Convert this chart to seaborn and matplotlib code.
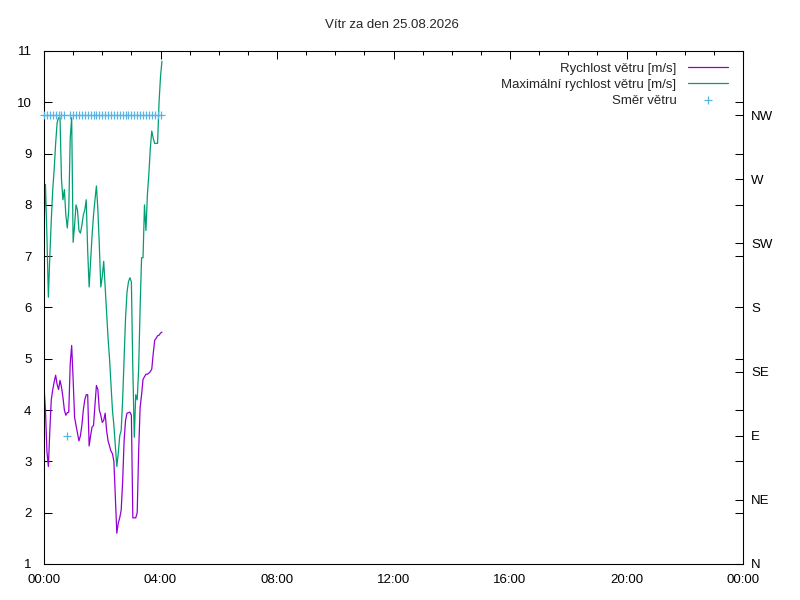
import numpy as np
import pandas as pd
import seaborn as sns
import matplotlib
matplotlib.use("Agg")
import matplotlib.pyplot as plt
from matplotlib.ticker import MultipleLocator, FuncFormatter

# wind speed samples, every 3 minutes from midnight
minutes = list(range(0, 244, 3))
speed = [4.45, 4.0, 3.2, 2.9, 3.6, 4.2, 4.4, 4.55, 4.68, 4.5,
         4.4, 4.58, 4.45, 4.25, 4.0, 3.9, 3.95, 3.96, 4.9, 5.26,
         4.6, 3.86, 3.7, 3.55, 3.4, 3.5, 3.7, 4.0, 4.2, 4.3,
         4.3, 3.3, 3.5, 3.67, 3.7, 4.1, 4.48, 4.4, 4.0, 3.9,
         3.76, 3.8, 3.94, 3.6, 3.4, 3.3, 3.2, 3.15, 3.0, 2.3,
         1.6, 1.8, 1.9, 2.05, 2.6, 3.4, 3.8, 3.94, 3.95, 3.96,
         3.9, 1.9, 1.9, 1.9, 2.0, 3.2, 4.05, 4.3, 4.6, 4.65,
         4.7, 4.7, 4.72, 4.75, 4.8, 5.1, 5.36, 5.4, 5.45, 5.46,
         5.5, 5.52]
gust = [7.6, 8.4, 7.4, 6.2, 7.0, 7.7, 8.3, 8.7, 9.2, 9.6,
        9.7, 9.7, 8.5, 8.1, 8.3, 7.8, 7.55, 7.9, 9.3, 9.7,
        7.27, 7.6, 8.0, 7.9, 7.5, 7.45, 7.6, 7.8, 7.9, 8.1,
        7.1, 6.4, 6.9, 7.4, 7.8, 8.1, 8.37, 7.9, 7.2, 6.4,
        6.6, 6.9, 6.4, 5.9, 5.4, 5.0, 4.5, 4.0, 3.7, 3.3,
        2.9, 3.16, 3.5, 3.6, 4.2, 5.0, 5.8, 6.3, 6.5, 6.58,
        6.5, 4.8, 3.47, 4.3, 4.2, 4.8, 6.0, 6.97, 6.97, 8.0,
        7.5, 8.2, 8.6, 9.1, 9.44, 9.3, 9.2, 9.2, 9.2, 10.0,
        10.5, 10.8]

# wind direction in degrees, every 6 minutes
dir_minutes = list(range(0, 241, 6))
direction = [315, 315, 315, 315, 315, 315, 315, 315, 90, 315,
             315, 315, 315, 315, 315, 315, 315, 315, 315, 315,
             315, 315, 315, 315, 315, 315, 315, 315, 315, 315,
             315, 315, 315, 315, 315, 315, 315, 315, 315, 315,
             315]

compass = ["N", "NE", "E", "SE", "S", "SW", "W", "NW"]
title = "Vítr za den 25.08.2026"

df = pd.DataFrame({"hours": np.array(minutes) / 60, "speed": speed, "gust": gust})
df_dir = pd.DataFrame({"hours": np.array(dir_minutes) / 60, "direction": direction})

sns.set_style("white")
plt.rcParams["font.family"] = ["Liberation Sans", "DejaVu Sans"]
plt.rcParams["font.size"] = 9.5

fig = plt.figure(figsize=(8, 6), dpi=100)
ax = fig.add_axes([44 / 800, 36 / 600, 699 / 800, 513 / 600])
ax2 = ax.twinx()

sns.lineplot(data=df, x="hours", y="speed", ax=ax, color="#9400d3", lw=0.9,
             label="Rychlost větru [m/s]")
sns.lineplot(data=df, x="hours", y="gust", ax=ax, color="#009e73", lw=0.9,
             label="Maximální rychlost větru [m/s]")
sns.scatterplot(data=df_dir, x="hours", y="direction", ax=ax2, marker="+",
                color="#56b4e9", s=40, linewidth=0.9, label="Směr větru",
                clip_on=False, zorder=5)

ax.set_xlim(0, 24)
ax.set_ylim(1, 11)
ax2.set_ylim(0, 360)
ax.xaxis.set_major_locator(MultipleLocator(4))
ax.xaxis.set_minor_locator(MultipleLocator(1))
ax.xaxis.set_major_formatter(FuncFormatter(lambda v, p: f"{int(round(v)) % 24:02d}:00"))
ax.yaxis.set_major_locator(MultipleLocator(1))
ax2.set_yticks(np.arange(0, 360, 45))
ax2.set_yticklabels(compass)

ax.set_xlabel("")
ax.set_ylabel("")
ax2.set_ylabel("")

ax.tick_params(axis="both", which="both", direction="in", top=True, right=True,
               colors="black", labelsize=9.5)
ax.tick_params(axis="x", which="major", length=6, width=0.75, pad=7)
ax.tick_params(axis="x", which="minor", length=3, width=0.75)
ax.tick_params(axis="y", which="major", length=6, width=0.75, pad=9)
ax2.tick_params(axis="y", which="major", direction="in", length=6, width=0.75,
                pad=6, labelsize=9.5, colors="black")

for a in (ax, ax2):
    for sp in a.spines.values():
        sp.set_linewidth(0.75)
        sp.set_color("black")

fig.text(0.49, 1 - 25 / 600, title, ha="center", va="center", fontsize=9.5)

h1, l1 = ax.get_legend_handles_labels()
h2, l2 = ax2.get_legend_handles_labels()
if ax.get_legend() is not None:
    ax.get_legend().remove()
if ax2.get_legend() is not None:
    ax2.get_legend().remove()
ax2.legend(h1 + h2, l1 + l2, loc="upper right", bbox_to_anchor=(0.9785, 0.977),
           frameon=False, markerfirst=False, borderpad=0, borderaxespad=0,
           handlelength=3.0, handletextpad=0.9, labelspacing=0.28,
           scatterpoints=1, fontsize=9.5)

fig.savefig("out.png", dpi=100)
